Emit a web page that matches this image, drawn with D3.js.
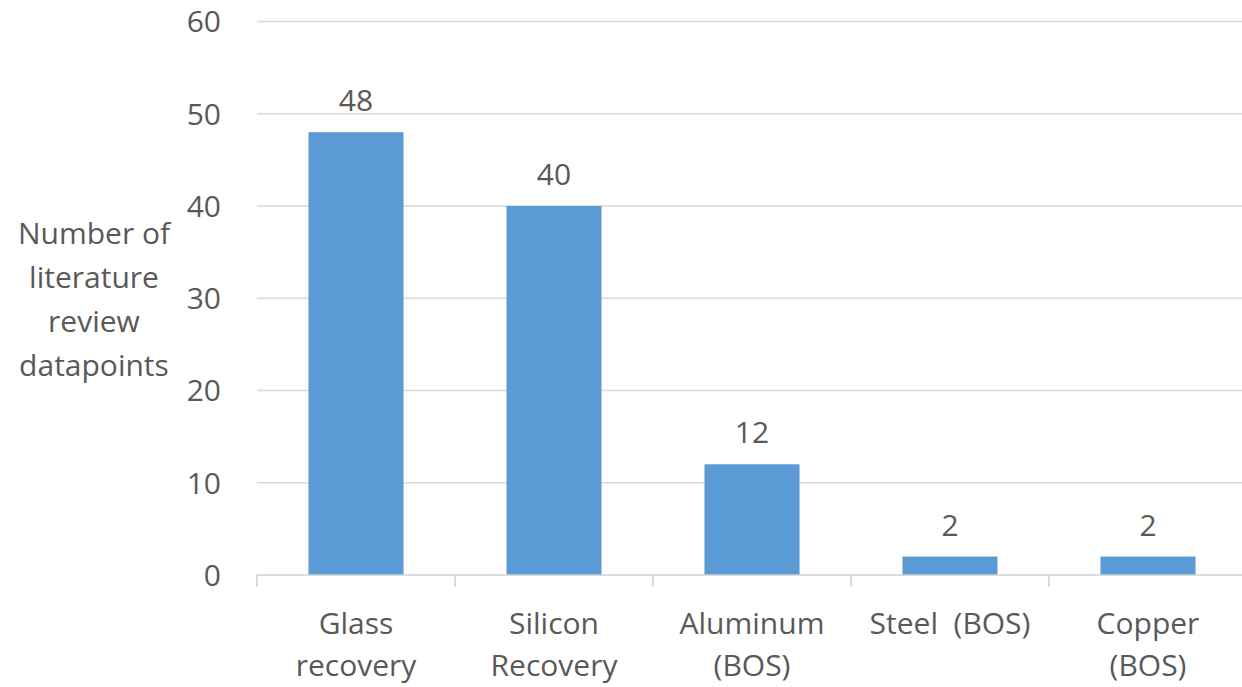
<!DOCTYPE html>
<html>
<head>
<meta charset="utf-8">
<script src="https://cdn.jsdelivr.net/npm/d3@7/dist/d3.min.js"></script>
<style>
  html, body { margin: 0; padding: 0; background: #fff; }
  svg { display: block; }
  text { font-family: "Open Sans", sans-serif; fill: #595959; }
</style>
</head>
<body>
<svg id="chart" width="1242" height="687"></svg>
<script>
// Literature review datapoints per recovered material
const categories = [
  ["Glass", "recovery"],
  ["Silicon", "Recovery"],
  ["Aluminum", "(BOS)"],
  ["Steel  (BOS)"],
  ["Copper", "(BOS)"]
];
const values = [48, 40, 12, 2, 2];
const yTicks = [0, 10, 20, 30, 40, 50, 60];
const yTitle = ["Number of", "literature", "review", "datapoints"];

const svg = d3.select("#chart");
const fontSize = 30;

const plot = { left: 257, right: 1247, top: 21.5, bottom: 575 };

const keys = categories.map((c, i) => i);
const x = d3.scaleBand().domain(keys).range([plot.left, plot.right]).padding(0);
const y = d3.scaleLinear().domain([0, 60]).range([plot.bottom, plot.top]);
const barW = x.bandwidth() * 0.48;

// Horizontal gridlines
svg.append("g")
  .selectAll("line")
  .data(yTicks.filter(t => t > 0))
  .join("line")
  .attr("x1", plot.left).attr("x2", 1242)
  .attr("y1", d => y(d)).attr("y2", d => y(d))
  .attr("stroke", "#d9d9d9").attr("stroke-width", 1.3);

// Y tick labels
svg.append("g")
  .selectAll("text")
  .data(yTicks)
  .join("text")
  .attr("x", 221)
  .attr("y", d => y(d))
  .attr("dy", "0.36em")
  .attr("text-anchor", "end")
  .style("font-size", fontSize + "px")
  .text(d => d);

// Bars
svg.append("g")
  .selectAll("rect")
  .data(values)
  .join("rect")
  .attr("x", (d, i) => x(i) + (x.bandwidth() - barW) / 2)
  .attr("width", barW)
  .attr("y", d => y(d))
  .attr("height", d => y(0) - y(d))
  .attr("fill", "#5b9bd5");

// Value labels
svg.append("g")
  .selectAll("text")
  .data(values)
  .join("text")
  .attr("x", (d, i) => x(i) + x.bandwidth() / 2)
  .attr("y", d => y(d) - 21)
  .attr("text-anchor", "middle")
  .style("font-size", fontSize + "px")
  .text(d => d);

// X axis line with category boundary ticks
const axis = svg.append("g");
axis.append("line")
  .attr("x1", plot.left).attr("x2", 1242)
  .attr("y1", y(0)).attr("y2", y(0))
  .attr("stroke", "#d0d0d0").attr("stroke-width", 1.5);
axis.selectAll("line.tick")
  .data(keys)
  .join("line")
  .attr("class", "tick")
  .attr("x1", d => x(d)).attr("x2", d => x(d))
  .attr("y1", y(0)).attr("y2", y(0) + 12)
  .attr("stroke", "#d0d0d0").attr("stroke-width", 1.5);

// Category labels
const catG = svg.append("g");
categories.forEach((lines, i) => {
  const t = catG.append("text")
    .attr("x", x(i) + x.bandwidth() / 2)
    .attr("y", 634)
    .attr("text-anchor", "middle")
    .style("font-size", fontSize + "px")
    .style("white-space", "pre");
  lines.forEach((ln, j) => {
    t.append("tspan")
      .attr("x", x(i) + x.bandwidth() / 2)
      .attr("dy", j === 0 ? 0 : 42)
      .text(ln);
  });
});

// Y axis title
const title = svg.append("text")
  .attr("x", 94)
  .attr("y", 244)
  .attr("text-anchor", "middle")
  .style("font-size", fontSize + "px");
yTitle.forEach((ln, j) => {
  title.append("tspan")
    .attr("x", 94)
    .attr("dy", j === 0 ? 0 : 44)
    .text(ln);
});
</script>
</body>
</html>
